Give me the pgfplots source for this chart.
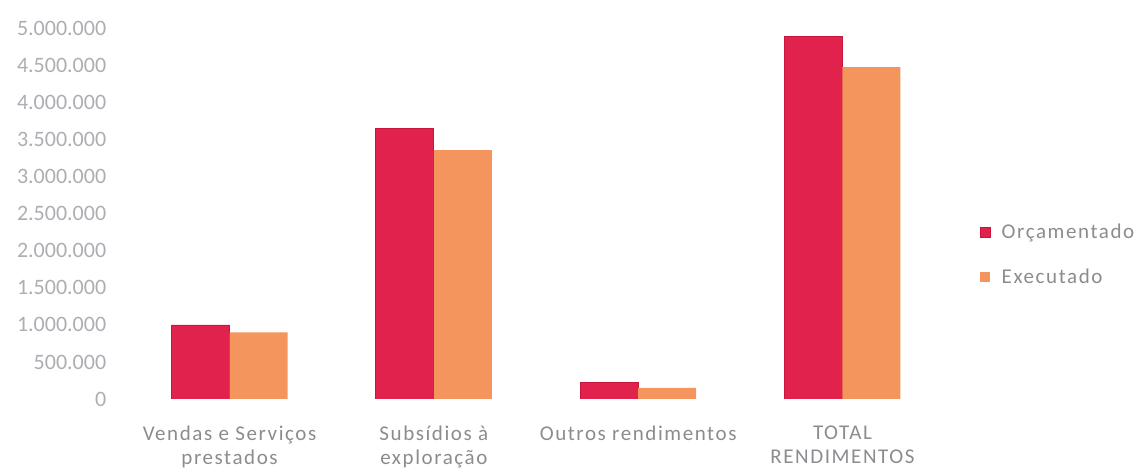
\documentclass[border=0pt]{standalone}
\usepackage{pgfplots}
\pgfplotsset{compat=1.18}
\usepackage{fontspec}
\setmainfont{Carlito}
\newfontfamily\catfont[LetterSpace=7.5]{Carlito}

\definecolor{orcam}{HTML}{E0224D}
\definecolor{orcamedge}{HTML}{C8163C}
\definecolor{exec}{HTML}{F3955C}
\definecolor{labgray}{HTML}{8C8C90}
\definecolor{tickgray}{HTML}{ADADB3}

\begin{document}
\begin{tikzpicture}
\path[use as bounding box] (0,0) rectangle (1140bp,473bp);
\begin{axis}[
  at={(127.4bp,74bp)}, anchor=south west,
  scale only axis,
  width=817.2bp, height=370.3bp,
  xmin=-0.5, xmax=3.5,
  ymin=0, ymax=5000000,
  ybar=0pt, bar width=58bp,
  axis line style={draw=none},
  major tick style={draw=none},
  xtick={0,1,2,3},
  xticklabels={{Vendas e Serviços\\prestados},{Subsídios à\\exploração},{Outros rendimentos},{TOTAL\\RENDIMENTOS}},
  xticklabel style={align=center, font=\catfont\fontsize{21bp}{24bp}\selectfont,
    text=labgray, anchor=north, inner sep=0pt, yshift=-22bp},
  ytick={0,500000,...,5000000},
  scaled y ticks=false,
  yticklabel style={font=\fontsize{22bp}{26bp}\selectfont, text=tickgray,
    anchor=east, inner sep=0pt, xshift=-21bp,
    /pgf/number format/.cd, fixed, 1000 sep={.}, assume math mode=true},
  legend style={at={(1.043,0.390)}, anchor=west, draw=none, fill=none,
    font=\catfont\fontsize{21bp}{24bp}\selectfont, text=labgray,
    row sep=29bp, inner sep=0pt,
    nodes={inner sep=0pt, anchor=west},
    /tikz/every odd column/.append style={column sep=11bp}},
  legend cell align=left,
  legend image code/.code={\fill[#1] (0bp,-5bp) rectangle (10bp,5bp);},
]
\addplot[fill=orcam, draw=orcamedge, line width=0.8bp]
  coordinates {(0,1000000) (1,3650000) (2,220000) (3,4900000)};
\addlegendentry{Orçamentado}
\addplot[fill=exec, draw=none]
  coordinates {(0,900000) (1,3360000) (2,150000) (3,4480000)};
\addlegendentry{Executado}
\end{axis}
\end{tikzpicture}
\end{document}
